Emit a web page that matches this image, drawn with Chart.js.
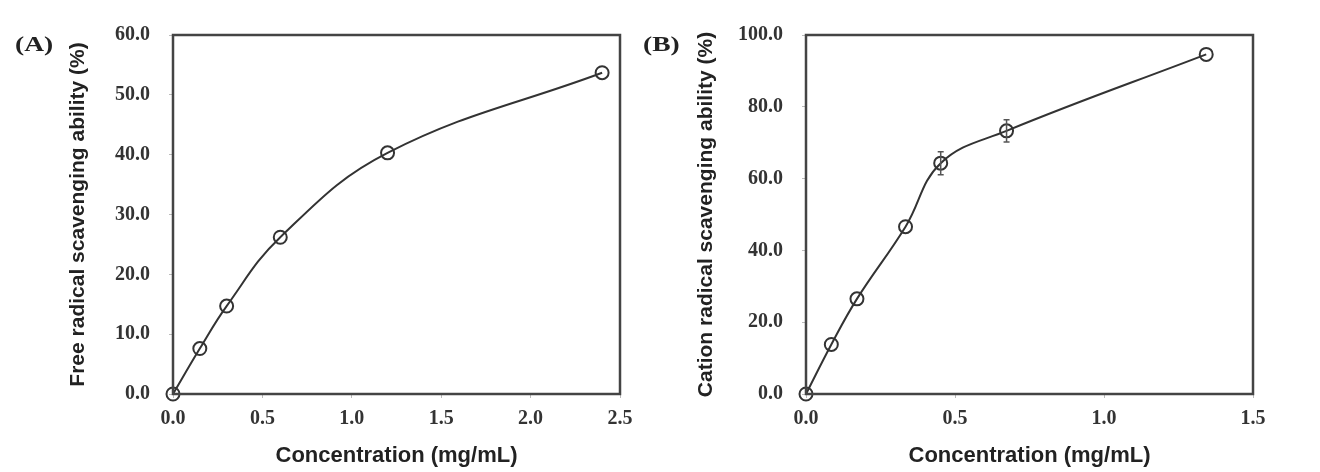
<!DOCTYPE html>
<html>
<head>
<meta charset="utf-8">
<script src="https://cdn.jsdelivr.net/npm/chart.js@4.4.1/dist/chart.umd.min.js"></script>
<style>
  body { margin: 0; background: #fff; width: 1320px; height: 472px; overflow: hidden; position: relative; }
  .panel { position: absolute; top: 0; width: 660px; height: 472px; }
  .tag { position: absolute; top: 31px; font: bold 22px "Liberation Serif", serif; color: #222;
         transform: scaleX(1.25); transform-origin: left top; }
</style>
</head>
<body>
<div class="panel" style="left:0"><canvas id="chartA"></canvas></div>
<div class="panel" style="left:660px"><canvas id="chartB"></canvas></div>
<div class="tag" style="left:15px">(A)</div>
<div class="tag" style="left:643px">(B)</div>
<script>
// panel A - free radical
const concA = [0, 0.15, 0.3, 0.6, 1.2, 2.4];
const scavA = [0, 7.6, 14.7, 26.2, 40.3, 53.7];
const errA = [0, 0, 0, 0, 0, 0];

// panel B - cation radical
const concB = [0, 0.085, 0.171, 0.334, 0.452, 0.673, 1.343];
const scavB = [0, 13.8, 26.5, 46.6, 64.3, 73.3, 94.6];
const errB = [0, 0, 0, 0, 3.2, 3.1, 0];

const ink = '#333';

// box round the plot area + error bars
const framePlugin = {
    id: 'frame',
    afterDatasetsDraw(chart, args, opts) {
        const c = chart.ctx;
        const a = chart.chartArea;
        const xs = chart.scales.x, ys = chart.scales.y;
        c.save();
        c.strokeStyle = '#555';
        c.lineWidth = 1.5;
        opts.err.forEach(function (e, i) {
            if (!e) return;
            const px = xs.getPixelForValue(opts.xv[i]);
            const top = ys.getPixelForValue(opts.yv[i] + e);
            const bot = ys.getPixelForValue(opts.yv[i] - e);
            c.beginPath();
            c.moveTo(px, top); c.lineTo(px, bot);
            c.moveTo(px - 3, top); c.lineTo(px + 3, top);
            c.moveTo(px - 3, bot); c.lineTo(px + 3, bot);
            c.stroke();
        });
        c.strokeStyle = '#444';
        c.lineWidth = 2.5;
        c.strokeRect(a.left, a.top, a.right - a.left, a.bottom - a.top);
        c.restore();
    }
};

function makeChart(id, xv, yv, err, xMax, yMax, yStep, yTitle, yAxisW, titlePad, rightPad) {
    return new Chart(document.getElementById(id), {
        type: 'scatter',
        data: {
            datasets: [{
                data: xv.map((x, i) => ({ x: x, y: yv[i] })),
                showLine: true,
                tension: 0.4,
                borderColor: ink,
                borderWidth: 2,
                pointRadius: 6.5,
                pointHoverRadius: 6.5,
                pointBorderWidth: 2,
                pointBorderColor: ink,
                pointBackgroundColor: 'rgba(0,0,0,0)',
                clip: false
            }]
        },
        options: {
            responsive: true,
            maintainAspectRatio: false,
            animation: false,
            layout: { padding: { top: 35, right: rightPad, left: 0, bottom: 0 } },
            plugins: {
                legend: { display: false },
                tooltip: { enabled: false },
                frame: { xv: xv, yv: yv, err: err }
            },
            scales: {
                x: {
                    type: 'linear',
                    min: 0, max: xMax,
                    border: { display: false },
                    grid: { drawOnChartArea: false, drawTicks: true, tickLength: 4, color: '#bbb' },
                    ticks: {
                        stepSize: 0.5, padding: 9, color: ink,
                        font: { family: 'Liberation Serif', weight: 'bold', size: 20 },
                        callback: v => v.toFixed(1)
                    },
                    title: {
                        display: true, text: 'Concentration (mg/mL)', color: '#222',
                        font: { family: 'Liberation Sans', weight: 'bold', size: 22 },
                        padding: { top: 0, bottom: 3 }
                    },
                    afterFit: s => { s.height = 78; }
                },
                y: {
                    min: 0, max: yMax,
                    border: { display: false },
                    grid: { drawOnChartArea: false, drawTicks: true, tickLength: 4, color: '#bbb' },
                    ticks: {
                        stepSize: yStep, padding: 19, color: ink,
                        font: { family: 'Liberation Serif', weight: 'bold', size: 20 },
                        callback: v => v.toFixed(1)
                    },
                    title: {
                        display: true, text: yTitle, color: '#222',
                        font: { family: 'Liberation Sans', weight: 'bold', size: 21 },
                        padding: { top: titlePad, bottom: 0 }
                    },
                    afterFit: s => { s.width = yAxisW; }
                }
            }
        },
        plugins: [framePlugin]
    });
}

makeChart('chartA', concA, scavA, errA, 2.5, 60, 10,
    'Free radical scavenging ability (%)', 173, 66, 40);
makeChart('chartB', concB, scavB, errB, 1.5, 100, 20,
    'Cation radical scavenging ability (%)', 146, 34, 67);
</script>
</body>
</html>
